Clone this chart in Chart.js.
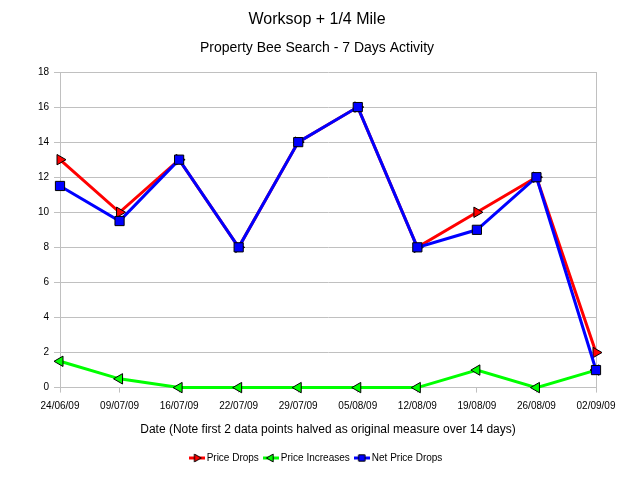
<!DOCTYPE html>
<html>
<head>
<meta charset="utf-8">
<script src="https://cdn.jsdelivr.net/npm/chart.js@4"></script>
<style>
  html, body { margin: 0; padding: 0; background: #fff; }
  #wrap { width: 640px; height: 480px; }
</style>
</head>
<body>
<div id="wrap"><canvas id="chart" width="640" height="480"></canvas></div>
<script>
// Dados do gráfico
const dates = ['24/06/09', '09/07/09', '16/07/09', '22/07/09', '29/07/09', '05/08/09', '12/08/09', '19/08/09', '26/08/09', '02/09/09'];
const priceDrops = [13, 10, 13, 8, 14, 16, 8, 10, 12, 2];
const priceIncreases = [1.5, 0.5, 0, 0, 0, 0, 0, 1, 0, 1];
const netPriceDrops = [11.5, 9.5, 13, 8, 14, 16, 8, 9, 12, 1];
const yMin = 0, yMax = 18, yStep = 2;

const FONT = "'Liberation Sans', Arial, sans-serif";
const gridColor = '#c0c0c0';

// Ícone da legenda: linha curta + marcador
function legendIcon(color, style, rotation) {
  const c = document.createElement('canvas');
  c.width = 16; c.height = 10;
  const ctx = c.getContext('2d');
  ctx.strokeStyle = color;
  ctx.lineWidth = 3;
  ctx.beginPath();
  ctx.moveTo(0, 5); ctx.lineTo(16, 5);
  ctx.stroke();
  ctx.fillStyle = color;
  ctx.strokeStyle = '#000';
  ctx.lineWidth = 1;
  Chart.helpers.drawPoint(ctx, { pointStyle: style, rotation: rotation, radius: 4.5, borderWidth: 1 }, 8, 5);
  return c;
}

function series(label, data, color, style, rotation, radius, order) {
  return {
    label: label,
    data: data,
    borderColor: color,
    backgroundColor: color,
    borderWidth: 3,
    pointStyle: style,
    rotation: rotation,
    pointRadius: radius,
    pointHoverRadius: radius,
    pointBorderColor: '#000',
    pointBorderWidth: 1,
    pointBackgroundColor: color,
    tension: 0,
    fill: false,
    clip: false,
    order: order
  };
}

const datasets = [
  series('Price Drops', priceDrops, '#ff0000', 'triangle', 90, 6, 2),
  series('Price Increases', priceIncreases, '#00ff00', 'triangle', -90, 6, 1),
  series('Net Price Drops', netPriceDrops, '#0000ff', 'rect', 0, 6.5, 0)
];
const icons = [
  legendIcon('#ff0000', 'triangle', 90),
  legendIcon('#00ff00', 'triangle', -90),
  legendIcon('#0000ff', 'rect', 0)
];

new Chart(document.getElementById('chart'), {
  type: 'line',
  data: { labels: dates, datasets: datasets },
  options: {
    responsive: false,
    animation: false,
    devicePixelRatio: 1,
    layout: { padding: { left: 10, right: 16, top: 0, bottom: 7 } },
    plugins: {
      title: {
        display: true,
        text: 'Worksop + 1/4 Mile',
        color: '#000',
        font: { family: FONT, size: 16, weight: 'normal' },
        padding: { top: 10, bottom: 5 }
      },
      subtitle: {
        display: true,
        text: 'Property Bee Search - 7 Days Activity',
        color: '#000',
        font: { family: FONT, size: 14, weight: 'normal' },
        padding: { top: 6, bottom: 15 }
      },
      legend: {
        position: 'bottom',
        labels: {
          color: '#000',
          font: { family: FONT, size: 10 },
          usePointStyle: true,
          padding: 7,
          sort: (a, b) => a.datasetIndex - b.datasetIndex,
          generateLabels: function(chart) {
            const items = Chart.defaults.plugins.legend.labels.generateLabels(chart);
            items.forEach(it => { it.pointStyle = icons[it.datasetIndex]; it.rotation = 0; });
            return items;
          }
        }
      },
      tooltip: { enabled: false }
    },
    scales: {
      x: {
        offset: false,
        grid: { drawOnChartArea: false, color: gridColor, tickLength: 5 },
        border: { color: gridColor },
        ticks: { color: '#000', font: { family: FONT, size: 10 }, padding: 8, maxRotation: 0, autoSkip: false },
        title: {
          display: true,
          text: 'Date (Note first 2 data points halved as original measure over 14 days)',
          color: '#000',
          font: { family: FONT, size: 12 },
          padding: { top: 2, bottom: 9 }
        }
      },
      y: {
        min: yMin,
        max: yMax,
        grid: { color: gridColor, tickLength: 6 },
        border: { color: gridColor },
        ticks: { stepSize: yStep, color: '#000', font: { family: FONT, size: 10 }, padding: 5 },
        afterFit: function(scale) { scale.width = 50; }
      },
      y2: {
        position: 'right',
        min: yMin,
        max: yMax,
        grid: { drawOnChartArea: false, drawTicks: false },
        border: { color: gridColor },
        ticks: { display: false },
        afterFit: function(scale) { scale.width = 28; }
      }
    }
  }
});
</script>
</body>
</html>
